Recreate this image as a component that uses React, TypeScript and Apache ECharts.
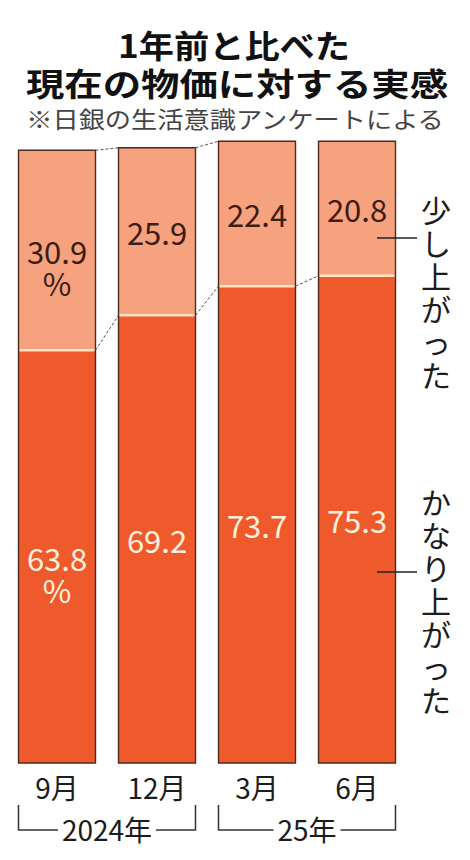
import { useEffect, useRef } from "react";
import * as echarts from "echarts";

const months = ["9月", "12月", "3月", "6月"];
const kanari = [63.8, 69.2, 73.7, 75.3]; // かなり上がった
const sukoshi = [30.9, 25.9, 22.4, 20.8]; // 少し上がった
const yearGroups = [
  { label: "2024年", from: 0, to: 1 },
  { label: "25年", from: 2, to: 3 },
];
const titleLines = ["1年前と比べた", "現在の物価に対する実感"];
const note = "※日銀の生活意識アンケートによる";
const upperName = "少し上がった";
const lowerName = "かなり上がった";

const FONT = '"Noto Sans CJK JP", "Noto Sans", sans-serif';
const DARK = "#ef5a2c";
const LIGHT = "#f6a27f";
const EDGE = "#4d2a1e";
const SEP = "#fde4c9";
const INK = "#1c1c1c";
const BAR_W = 77;

const totals = kanari.map((v, i) => +(v + sukoshi[i]).toFixed(1));

function renderOutline(_params: any, api: any) {
  const i = api.value(0);
  const lo = api.value(1);
  const tot = api.value(2);
  const nLo = api.value(3);
  const nTot = api.value(4);
  const [cx, y0] = api.coord([i, 0]);
  const yLo = api.coord([i, lo])[1];
  const yTop = api.coord([i, tot])[1];
  const h = BAR_W / 2;
  const kids: any[] = [
    {
      type: "line",
      shape: { x1: cx - h + 1, y1: yLo, x2: cx + h - 1, y2: yLo },
      style: { stroke: SEP, lineWidth: 2.5 },
    },
    {
      type: "rect",
      shape: { x: cx - h, y: yTop, width: BAR_W, height: y0 - yTop },
      style: { fill: "none", stroke: EDGE, lineWidth: 1.4 },
    },
  ];
  if (i < months.length - 1) {
    const nx = api.coord([i + 1, 0])[0] - h;
    const dash = { stroke: "#555", lineWidth: 1, lineDash: [3, 2] };
    kids.push({
      type: "line",
      shape: { x1: cx + h, y1: yLo, x2: nx, y2: api.coord([i + 1, nLo])[1] },
      style: dash,
    });
    if (Math.abs(nTot - tot) > 0.05) {
      kids.push({
        type: "line",
        shape: { x1: cx + h, y1: yTop, x2: nx, y2: api.coord([i + 1, nTot])[1] },
        style: dash,
      });
    }
  }
  return { type: "group", children: kids };
}

export default function App() {
  const ref = useRef<HTMLDivElement | null>(null);

  useEffect(() => {
    const el = ref.current!;
    const chart = echarts.init(el, undefined, { renderer: "svg" });

    const labelText = (v: number, i: number) => (i === 0 ? `${v}\n%` : `${v}`);

    chart.setOption({
      animation: false,
      grid: { left: 7, right: 63, top: 116, bottom: 97 },
      xAxis: {
        type: "category",
        data: months,
        axisLine: { show: false },
        axisTick: { show: false },
        axisLabel: { fontSize: 28, fontFamily: FONT, color: INK, margin: 10 },
      },
      yAxis: { type: "value", min: 0, max: 100, show: false, splitLine: { show: false } },
      series: [
        {
          name: lowerName,
          type: "bar",
          stack: "a",
          barWidth: BAR_W,
          itemStyle: { color: DARK },
          data: kanari.map((v, i) => ({
            value: v,
            label: { formatter: labelText(v, i), offset: [0, i === 0 ? 17 : 0] },
          })),
          label: {
            show: true,
            position: "inside",
            color: "#fff1df",
            fontSize: 31,
            lineHeight: 32,
            fontFamily: FONT,
          },
        },
        {
          name: upperName,
          type: "bar",
          stack: "a",
          barWidth: BAR_W,
          itemStyle: { color: LIGHT },
          data: sukoshi.map((v, i) => ({
            value: v,
            label: { formatter: labelText(v, i), offset: [0, i === 0 ? 16 : 0] },
          })),
          label: {
            show: true,
            position: "inside",
            color: "#3b1d12",
            fontSize: 31,
            lineHeight: 32,
            fontFamily: FONT,
          },
        },
        {
          type: "custom",
          z: 5,
          clip: false,
          silent: true,
          renderItem: renderOutline,
          encode: { x: 0, y: 2 },
          data: months.map((_, i) => [
            i,
            kanari[i],
            totals[i],
            kanari[i + 1] ?? kanari[i],
            totals[i + 1] ?? totals[i],
          ]),
        },
      ],
    });

    const half = BAR_W / 2;
    const px = (i: number) => chart.convertToPixel({ xAxisIndex: 0 }, i) as number;
    const brackets: any[] = [];
    yearGroups.forEach((g) => {
      const x1 = px(g.from) - half;
      const x2 = px(g.to) + half;
      brackets.push({
        type: "polyline",
        shape: { points: [[x1, 805], [x1, 830], [x2, 830], [x2, 805]] },
        style: { stroke: "#333", lineWidth: 1.5, fill: "none" },
      });
      brackets.push({
        type: "text",
        x: (x1 + x2) / 2,
        y: 829,
        z: 10,
        style: {
          text: g.label,
          fill: INK,
          fontSize: 28,
          fontFamily: FONT,
          align: "center",
          verticalAlign: "middle",
          backgroundColor: "#fff",
          padding: [0, 4],
        },
      });
    });

    const vertical = (s: string) => s.split("").join("\n");

    chart.setOption({
      graphic: [
        {
          type: "text",
          x: 234,
          y: 44,
          scaleX: 1.1,
          style: {
            text: titleLines[0],
            fill: "#111",
            fontSize: 32,
            fontWeight: "bold",
            fontFamily: FONT,
            align: "center",
            verticalAlign: "middle",
          },
        },
        {
          type: "text",
          x: 237,
          y: 82,
          scaleX: 1.2,
          style: {
            text: titleLines[1],
            fill: "#111",
            fontSize: 32,
            fontWeight: "bold",
            fontFamily: FONT,
            align: "center",
            verticalAlign: "middle",
          },
        },
        {
          type: "text",
          x: 235,
          y: 118,
          scaleX: 1.14,
          style: {
            text: note,
            fill: "#444",
            fontSize: 23,
            fontFamily: FONT,
            align: "center",
            verticalAlign: "middle",
          },
        },
        {
          type: "text",
          x: 436,
          y: 291,
          style: {
            text: vertical(upperName),
            fill: INK,
            fontSize: 30,
            lineHeight: 33,
            fontFamily: FONT,
            align: "center",
            verticalAlign: "middle",
          },
        },
        {
          type: "text",
          x: 436,
          y: 600,
          style: {
            text: vertical(lowerName),
            fill: INK,
            fontSize: 30,
            lineHeight: 33,
            fontFamily: FONT,
            align: "center",
            verticalAlign: "middle",
          },
        },
        {
          type: "line",
          z: 10,
          shape: { x1: 377, y1: 238, x2: 417, y2: 238 },
          style: { stroke: "#222", lineWidth: 1.5 },
        },
        {
          type: "line",
          z: 10,
          shape: { x1: 377, y1: 572, x2: 417, y2: 572 },
          style: { stroke: "#222", lineWidth: 1.5 },
        },
        ...brackets,
      ],
    });

    return () => chart.dispose();
  }, []);

  return (
    <div
      ref={ref}
      style={{ position: "absolute", left: 0, top: 0, width: 470, height: 860, background: "#fff" }}
    />
  );
}
